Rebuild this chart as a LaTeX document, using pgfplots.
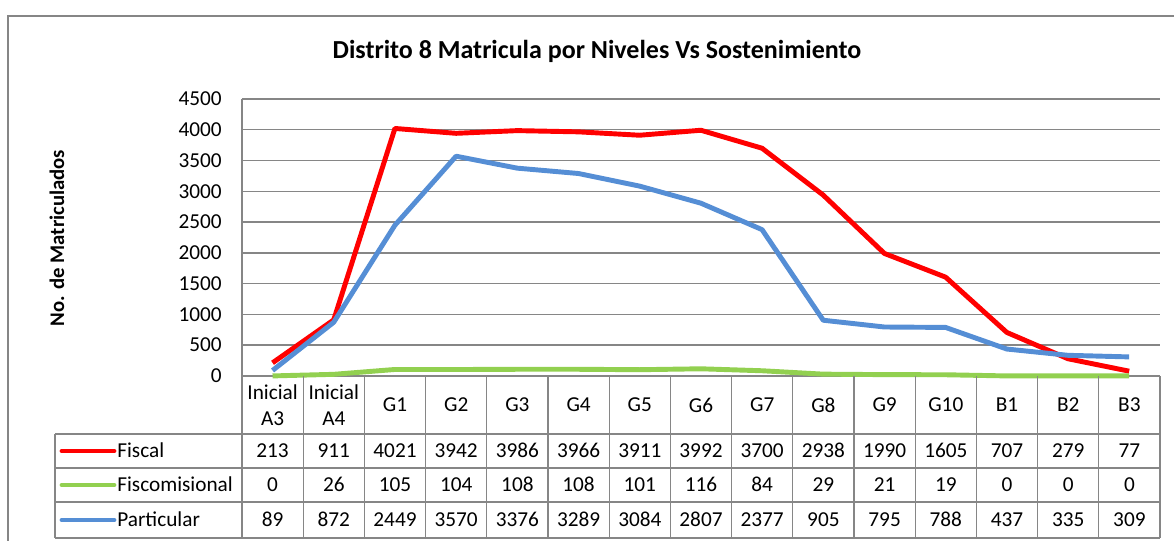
\documentclass[border=0pt]{standalone}
\usepackage{fontspec}
\setmainfont{Carlito}
\usepackage{pgfplots}
\pgfplotsset{compat=1.18}
\definecolor{fisc}{HTML}{FF0000}
\definecolor{fcom}{HTML}{92D050}
\definecolor{part}{HTML}{558ED5}
\definecolor{gridg}{HTML}{868686}
\newcommand{\tfont}{\fontsize{12.1}{14.5}\selectfont}
\tikzset{cell/.style={font=\tfont, inner sep=0pt, text height=0.62em, text depth=0pt}}

\begin{document}
\begin{tikzpicture}
\begin{scope}[x=0.02cm,y=-0.02cm]
\useasboundingbox (0,0) rectangle (1174,541);
\draw[gridg, line width=0.8pt] (8,541) -- (8,16) -- (1174,16);
\node[font=\bfseries\fontsize{14.8}{17}\selectfont] at (597,51) {Distrito 8 Matricula por Niveles Vs Sostenimiento};
\node[rotate=90, font=\bfseries\fontsize{11.8}{14}\selectfont] at (57,238) {No. de Matriculados};
\end{scope}

\begin{axis}[at={(4.84cm,-7.52cm)}, anchor=south west, scale only axis,
  width=18.36cm, height=5.54cm,
  xmin=0.5, xmax=15.5, ymin=0, ymax=4500,
  ytick={0,500,...,4500}, xtick=\empty,
  scaled y ticks=false,
  /pgf/number format/1000 sep={},
  /pgf/number format/assume math mode=true,
  ymajorgrids, grid style={gridg, line width=0.8pt},
  axis x line=bottom, axis y line=left,
  axis line style={gridg, line width=0.8pt, -},
  major tick length=0pt,
  yticklabel style={font=\tfont, inner sep=0pt, xshift=-0.4cm},
  clip=false,
]
\addplot[fisc, line width=2.8pt, line join=round] coordinates {
  (1,213) (2,911) (3,4021) (4,3942) (5,3986) (6,3966) (7,3911) (8,3992)
  (9,3700) (10,2938) (11,1990) (12,1605) (13,707) (14,279) (15,77)};
\addplot[fcom, line width=2.8pt, line join=round] coordinates {
  (1,0) (2,26) (3,105) (4,104) (5,108) (6,108) (7,101) (8,116)
  (9,84) (10,29) (11,21) (12,19) (13,0) (14,0) (15,0)};
\addplot[part, line width=2.8pt, line join=round] coordinates {
  (1,89) (2,872) (3,2449) (4,3570) (5,3376) (6,3289) (7,3084) (8,2807)
  (9,2377) (10,905) (11,795) (12,788) (13,437) (14,335) (15,309)};
\end{axis}

\begin{scope}[x=0.02cm,y=-0.02cm]
% table grid
\foreach \k in {0,...,15} {
  \draw[gridg, line width=0.7pt] ({242+61.2*\k},376) -- ({242+61.2*\k},538);
}
\foreach \yy in {434,468,502,538} {
  \draw[gridg, line width=0.7pt] (55,\yy) -- (1160,\yy);
}
\draw[gridg, line width=0.7pt] (55,434) -- (55,538);
% header
\foreach \c [count=\i] in {{Inicial\\A3},{Inicial\\A4},G1,G2,G3,G4,G5,G6,G7,G8,G9,G10,B1,B2,B3} {
  \node[font=\tfont, align=center, inner sep=0pt] at ({242+61.2*(\i-0.5)},405) {\c};
}
% legend keys
\draw[fisc, line width=2.8pt, line cap=round] (62,451) -- (114,451);
\node[cell, anchor=west] at (117,452) {Fiscal};
\draw[fcom, line width=2.8pt, line cap=round] (62,485) -- (114,485);
\node[cell, anchor=west] at (117,486) {Fiscomisional};
\draw[part, line width=2.8pt, line cap=round] (62,520) -- (114,520);
\node[cell, anchor=west] at (117,521) {Particular};
% values
\foreach \v [count=\i] in {213,911,4021,3942,3986,3966,3911,3992,3700,2938,1990,1605,707,279,77} {
  \node[cell] at ({242+61.2*(\i-0.5)},452) {\v};
}
\foreach \v [count=\i] in {0,26,105,104,108,108,101,116,84,29,21,19,0,0,0} {
  \node[cell] at ({242+61.2*(\i-0.5)},486) {\v};
}
\foreach \v [count=\i] in {89,872,2449,3570,3376,3289,3084,2807,2377,905,795,788,437,335,309} {
  \node[cell] at ({242+61.2*(\i-0.5)},521) {\v};
}
\end{scope}
\end{tikzpicture}
\end{document}
